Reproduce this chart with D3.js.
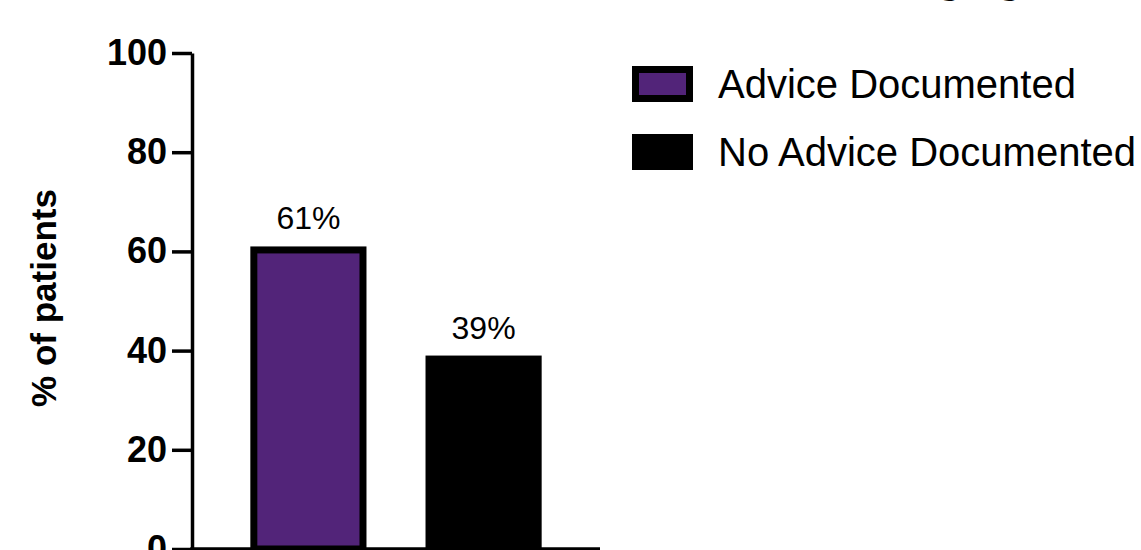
<!DOCTYPE html>
<html>
<head>
<meta charset="utf-8">
<script src="https://cdn.jsdelivr.net/npm/d3@7"></script>
<style>
  html, body { margin: 0; padding: 0; background: #fff; }
  svg { display: block; font-family: "Liberation Sans", Arial, Helvetica, sans-serif; }
</style>
</head>
<body>
<svg id="chart" width="1141" height="550"></svg>
<script>
const categories = ["Advice Documented", "No Advice Documented"];
const values = [61, 39];
const valueLabels = ["61%", "39%"];
const yTicks = [0, 20, 40, 60, 80, 100];
const colors = ["#522479", "#000000"];
const titleText = "Advice Documented at Staging";
const yTitle = "% of patients";

const svg = d3.select("#chart");
const x0 = 192, x1 = 600, yBase = 549, yTop = 53;

const x = d3.scaleBand().domain(categories).range([x0, x1]).paddingInner(0.337).paddingOuter(0.333);
const y = d3.scaleLinear().domain([0, 100]).range([yBase, yTop]);

// Title (mostly cropped at top)
svg.append("text")
  .attr("x", 1022).attr("y", -7)
  .attr("text-anchor", "end")
  .attr("font-weight", "bold")
  .attr("font-size", 40)
  .text(titleText);

// Bars
const sw = 7;
svg.selectAll("rect.bar").data(categories).join("rect")
  .attr("class", "bar")
  .attr("x", d => x(d) + sw / 2)
  .attr("width", x.bandwidth() - sw)
  .attr("y", (d, i) => y(values[i]) + sw / 2)
  .attr("height", (d, i) => y(0) - y(values[i]) - sw / 2)
  .attr("fill", (d, i) => colors[i])
  .attr("stroke", "#000")
  .attr("stroke-width", sw);

// Value labels
svg.selectAll("text.val").data(categories).join("text")
  .attr("class", "val")
  .attr("x", d => x(d) + x.bandwidth() / 2)
  .attr("y", (d, i) => y(values[i]) - 17)
  .attr("text-anchor", "middle")
  .attr("font-size", 32)
  .attr("fill", "#000")
  .text((d, i) => valueLabels[i]);

// Y axis
const yAxis = d3.axisLeft(y).tickValues(yTicks).tickSize(20).tickPadding(5).tickSizeOuter(0);
const gy = svg.append("g").attr("transform", `translate(${x0},0)`).call(yAxis);
gy.select(".domain").attr("stroke", "#000").attr("stroke-width", 3.5);
gy.selectAll(".tick line").attr("stroke", "#000").attr("stroke-width", 3.5);
gy.selectAll(".tick text")
  .attr("font-family", "'Liberation Sans', Arial, sans-serif")
  .attr("font-size", 36).attr("font-weight", "bold").attr("fill", "#000");

// X axis baseline
const xAxis = d3.axisBottom(x).tickSize(0).tickFormat("").tickSizeOuter(0);
const gx = svg.append("g").attr("transform", `translate(0,${yBase})`).call(xAxis);
gx.select(".domain").attr("stroke", "#000").attr("stroke-width", 3.5)
  .attr("d", `M${x0 - 1.75},0H${x1}`);

// Y title
svg.append("text")
  .attr("transform", `translate(56,298) rotate(-90)`)
  .attr("text-anchor", "middle")
  .attr("font-size", 35).attr("font-weight", "bold")
  .text(yTitle);

// Legend
const legY = [84, 152];
const lg = svg.append("g");
categories.forEach((c, i) => {
  lg.append("rect")
    .attr("x", 632 + 3.5).attr("y", legY[i] - 18 + 3.5)
    .attr("width", 61 - 7).attr("height", 36 - 7)
    .attr("fill", colors[i]).attr("stroke", "#000").attr("stroke-width", 7);
  lg.append("text")
    .attr("x", 718).attr("y", legY[i] + 14)
    .attr("font-size", 40).attr("fill", "#000")
    .text(c);
});
</script>
</body>
</html>
